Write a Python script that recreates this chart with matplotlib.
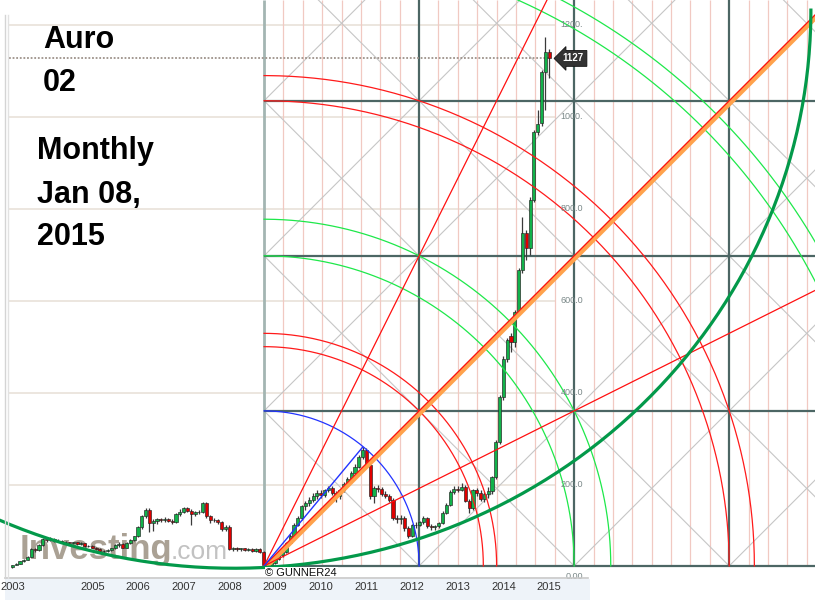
import numpy as np
import pandas as pd
import matplotlib
matplotlib.use('Agg')
import matplotlib.pyplot as plt
from matplotlib.lines import Line2D
from matplotlib.patches import Rectangle
from matplotlib import font_manager as fm

# monthly candles, Apr 2003 .. Jan 2015
OPEN = [22, 26, 29, 34, 38, 44, 60, 58, 70,                          # 2003 Apr-Dec
        82, 80, 83, 78, 79, 76, 75, 73, 75, 72, 73, 68,               # 2004
        67, 63, 60, 57, 56, 58, 62, 70, 72, 64, 74, 80,               # 2005
        88, 108, 132, 146, 118, 121, 125, 124, 127, 122, 120, 137,    # 2006
        142, 149, 144, 136, 141, 142, 161, 132, 124, 123, 119, 104,   # 2007
        109, 60, 62, 60, 62, 59, 61, 57, 60, 55, 27, 25,              # 2008
        31, 40, 47, 55, 74, 90, 114, 128, 154, 160, 168, 177,         # 2009
        182, 178, 189, 193, 183, 175, 188, 202, 214, 227, 240, 261,   # 2010
        276, 243, 175, 194, 191, 181, 177, 168, 128, 125, 128, 106,   # 2011
        90, 112, 114, 119, 128, 111, 109, 110, 118, 140, 157, 184,    # 2012
        192, 190, 196, 166, 150, 188, 183, 170, 180, 186, 217, 293,   # 2013
        391, 474, 524, 511, 576, 667, 748, 715, 820, 967, 987, 1098,  # 2014
        1141]                                                         # 2015 Jan
CLOSE = [26, 29, 34, 38, 44, 60, 58, 70, 82,
         80, 83, 78, 79, 76, 75, 73, 75, 72, 73, 68, 67,
         63, 60, 57, 56, 58, 62, 70, 72, 64, 74, 80, 88,
         108, 132, 146, 118, 121, 125, 124, 127, 122, 120, 137, 142,
         149, 144, 136, 141, 142, 161, 132, 124, 123, 119, 104, 109,
         60, 62, 60, 62, 59, 61, 57, 60, 55, 27, 25, 31,
         40, 47, 55, 74, 90, 114, 128, 154, 160, 168, 177, 182,
         178, 189, 193, 183, 175, 188, 202, 214, 227, 240, 261, 276,
         243, 175, 194, 191, 181, 177, 168, 128, 125, 128, 106, 90,
         112, 114, 119, 128, 111, 109, 110, 118, 140, 157, 184, 192,
         190, 196, 166, 150, 188, 183, 170, 180, 186, 217, 293, 391,
         474, 515, 511, 576, 667, 748, 715, 820, 967, 985, 1098, 1141,
         1127]
HIGH = [27, 30, 35, 39, 46, 62, 62, 72, 85,
        85, 86, 84, 82, 80, 78, 77, 77, 76, 75, 74, 70,
        69, 65, 62, 59, 60, 64, 72, 75, 74, 76, 83, 90,
        110, 135, 150, 149, 126, 128, 129, 130, 129, 126, 139, 148,
        152, 152, 147, 143, 146, 163, 162, 134, 128, 126, 121, 112,
        112, 65, 65, 64, 64, 63, 63, 62, 62, 57, 30, 33,
        42, 49, 58, 77, 93, 118, 132, 157, 166, 174, 182, 188,
        188, 192, 198, 197, 186, 191, 206, 218, 231, 245, 265, 282,
        280, 247, 198, 199, 195, 186, 180, 171, 134, 135, 133, 110,
        116, 120, 122, 132, 131, 115, 113, 120, 143, 160, 188, 198,
        198, 204, 200, 170, 192, 194, 188, 185, 195, 220, 297, 396,
        480, 520, 530, 580, 672, 783, 755, 825, 972, 1015, 1102, 1174,
        1148]
LOW = [20, 25, 28, 33, 37, 43, 55, 56, 68,
       77, 78, 76, 75, 73, 73, 71, 71, 70, 70, 66, 65,
       62, 58, 55, 53, 54, 56, 60, 66, 62, 62, 72, 78,
       86, 105, 128, 98, 100, 116, 119, 120, 119, 116, 118, 133,
       138, 141, 113, 132, 137, 140, 128, 118, 119, 115, 100, 100,
       58, 57, 57, 57, 56, 56, 54, 54, 52, 24, 21, 23,
       28, 37, 44, 52, 71, 86, 110, 124, 146, 155, 163, 170,
       172, 174, 185, 178, 164, 170, 184, 197, 208, 222, 236, 256,
       238, 170, 160, 184, 176, 171, 162, 124, 118, 115, 101, 84,
       86, 107, 110, 115, 106, 103, 103, 106, 115, 136, 154, 180,
       185, 186, 162, 138, 145, 176, 165, 163, 172, 180, 212, 289,
       385, 468, 490, 500, 570, 660, 690, 700, 815, 960, 980, 1015,
       1085]
LAST_PRICE = 1127

YEAR_TICKS = [2003, 2005, 2006, 2007, 2008, 2009, 2010, 2011, 2012, 2013, 2014, 2015]
PRICE_LEVELS = [0, 200, 400, 600, 800, 1000, 1200]
PRICE_LABELS = ['0.00', '200.0', '400.0', '600.0', '800.0', '1000.', '1200.']

# Gann square overlay (origin at the Oct 2008 low, one cell = 3.394 yrs x 337)
GANN_T0, GANN_P0 = 2008.76, 24
CELL_T, CELL_P = 3.394, 337
FAN_RATIOS = [2.0, 1.0, 0.5]
RED_ARCS = [np.sqrt(2), 1.5, 3.0, np.sqrt(10)]
GREEN_ARCS = [2.0, np.sqrt(5), 4.0, np.sqrt(17)]
BLUE_ARCS = [1.0]
# big green curve (ellipse)
CURVE_T, CURVE_P, CURVE_A, CURVE_B = 2008.10, 1232, 12.63, 1213

XLIM = (2002.98, 2020.82)
YLIM = (-2.2, 1254)
CHART_RIGHT = 2015.15


def pick_font(names):
    for n in names:
        try:
            fm.findfont(fm.FontProperties(family=n), fallback_to_default=False)
            return n
        except ValueError:
            pass
    return 'DejaVu Sans'


SANS = pick_font(['Liberation Sans', 'Arial', 'DejaVu Sans'])

fig = plt.figure(figsize=(8.15, 6.0), dpi=100)
fig.patch.set_facecolor('white')
fig.add_artist(Rectangle((5 / 815, 0), 585 / 815, 21 / 600, transform=fig.transFigure,
                         facecolor='#eef3f9', edgecolor='none', zorder=0))
ax = fig.add_axes([0, 22 / 600, 1, 578 / 600])
ax.set_facecolor('none')
ax.set_xlim(*XLIM)
ax.set_ylim(*YLIM)
for s in ax.spines.values():
    s.set_visible(False)
ax.set_yticks([])
ax.set_xticks(YEAR_TICKS, labels=[str(y) for y in YEAR_TICKS])
ax.tick_params(axis='x', length=0, pad=3, labelsize=8, labelcolor='#333333')
for lab in ax.get_xticklabels():
    lab.set_fontfamily(SANS)
ax.get_xticklabels()[0].set_horizontalalignment('left')

fig.add_artist(Line2D([5 / 815, 588 / 815], [22 / 600, 22 / 600], color='#c8c8c8', lw=1.2))
fig.add_artist(Line2D([5 / 815, 5 / 815], [22 / 600, 585 / 600], color='#d4d4d4', lw=1))
fig.add_artist(Line2D([8 / 815, 8 / 815], [22 / 600, 585 / 600], color='#e2e2e2', lw=1))

# price gridlines + labels
ax.hlines(PRICE_LEVELS[1:], XLIM[0] + 0.2, CHART_RIGHT, color='#ebe4dc', lw=1.3, zorder=1)
for v, s in zip(PRICE_LEVELS, PRICE_LABELS):
    ax.text(2015.74, v, s, ha='right', va='center', fontsize=6.5, color='#7a8888',
            family=SANS, zorder=6)

# watermark
ax.text(2003.4, 40, 'Investing', fontsize=25, fontweight='bold', color='#aaa194',
        family=SANS, ha='left', va='baseline', zorder=1.5)
ax.text(2006.72, 40, '.com', fontsize=19, color='#c2c2c2', family=SANS,
        ha='left', va='baseline', zorder=1.5)

# Gann box: pink verticals, gray diagonals, dark grid
u_max = (XLIM[1] - GANN_T0) / CELL_T
pink = [GANN_T0 + CELL_T * j / 8 for j in range(1, int(u_max * 8) + 1) if j % 8]
ax.vlines(pink, GANN_P0, YLIM[1], color='#f1c9c2', lw=0.9, zorder=1.2)

clip = Rectangle((GANN_T0, GANN_P0), XLIM[1] - GANN_T0, YLIM[1] - GANN_P0,
                 transform=ax.transData, facecolor='none', edgecolor='none')
ax.add_patch(clip)
uu = np.array([-2.0, 7.0])
for k in range(-5, 6):
    ln, = ax.plot(GANN_T0 + uu * CELL_T, GANN_P0 + (uu - k) * CELL_P, color='#c6c6c6', lw=0.8, zorder=1.3)
    ln.set_clip_path(clip)
for k in range(0, 10):
    ln, = ax.plot(GANN_T0 + uu * CELL_T, GANN_P0 + (k - uu) * CELL_P, color='#c6c6c6', lw=0.8, zorder=1.3)
    ln.set_clip_path(clip)

ax.vlines(GANN_T0, GANN_P0, YLIM[1], color='#a3b5b2', lw=2.0, zorder=1.4)
ax.vlines([GANN_T0 + CELL_T * i for i in (1, 2, 3)], GANN_P0, YLIM[1], color='#4c6664', lw=1.6, zorder=1.4)
ax.hlines([GANN_P0 + CELL_P * i for i in (0, 1, 2, 3)], GANN_T0, XLIM[1], color='#4c6664', lw=1.6, zorder=1.4)

# candles
dates = pd.date_range('2003-04-01', periods=len(CLOSE), freq='MS')
t = dates.year + (dates.month - 1) / 12
o, c = np.array(OPEN, float), np.array(CLOSE, float)
colors = np.where(c >= o, '#12b24a', '#e00000')
ax.vlines(t, LOW, HIGH, color='#3a3a3a', lw=0.9, zorder=3)
ax.bar(t, c - o, bottom=o, width=0.068, color=colors, edgecolor='#222222', lw=0.45, zorder=3.5)

# last price line and tag
ax.hlines(LAST_PRICE, XLIM[0] + 0.2, t[-1], color='#9d928a', lw=1.3, linestyles=(0, (1, 1)), zorder=2)
ax.text(2015.3, LAST_PRICE, str(LAST_PRICE), ha='left', va='center', fontsize=7, color='white',
        fontweight='bold', family=SANS, zorder=7,
        bbox=dict(boxstyle='larrow,pad=0.3', fc='#333333', ec='#111111', lw=0.6))

# arcs around the Gann origin
th = np.linspace(0, np.pi / 2, 200)
for radii, col in ((RED_ARCS, '#ff1a1a'), (GREEN_ARCS, '#1ee84a'), (BLUE_ARCS, '#2233ff')):
    for r in radii:
        ax.plot(GANN_T0 + r * CELL_T * np.cos(th), GANN_P0 + r * CELL_P * np.sin(th),
                color=col, lw=0.9, zorder=4)

# fan lines
ax.plot([GANN_T0 + 0.066, GANN_T0 + 0.066 + 5 * CELL_T], [GANN_P0, GANN_P0 + 5 * CELL_P],
        color='#ffa24c', lw=3.6, solid_capstyle='butt', zorder=4.2)
for r in FAN_RATIOS:
    ax.plot([GANN_T0, GANN_T0 + 5 * CELL_T], [GANN_P0, GANN_P0 + 5 * CELL_P * r],
            color='#ff1010', lw=0.9, zorder=4.4)
i_top = int(np.argmax(HIGH[:100]))
ax.plot([GANN_T0, t[i_top]], [GANN_P0, HIGH[i_top]], color='#2233ff', lw=1.0, zorder=4.4)

# big green curve
ph = np.linspace(np.pi, 2 * np.pi, 400)
ax.plot(CURVE_T + CURVE_A * np.cos(ph), CURVE_P + CURVE_B * np.sin(ph), color='#03994a', lw=2.3, zorder=4.5)

ax.annotate('\u00a9 GUNNER24', xy=(GANN_T0, GANN_P0), xytext=(1, -5), textcoords='offset points',
            ha='left', va='center', fontsize=8, color='#111111', family=SANS, zorder=8,
            bbox=dict(boxstyle='square,pad=0.05', fc='white', ec='none'))

# title block
for txt, x, y in (('Auro', 43, 48), ('02', 43, 91), ('Monthly', 37, 159),
                  ('Jan 08,', 37, 203), ('2015', 37, 245)):
    fig.text(x / 815, 1 - y / 600, txt, fontsize=22, fontweight='bold', color='black',
             family=SANS, ha='left', va='baseline')

fig.savefig('out.png', dpi=100)
